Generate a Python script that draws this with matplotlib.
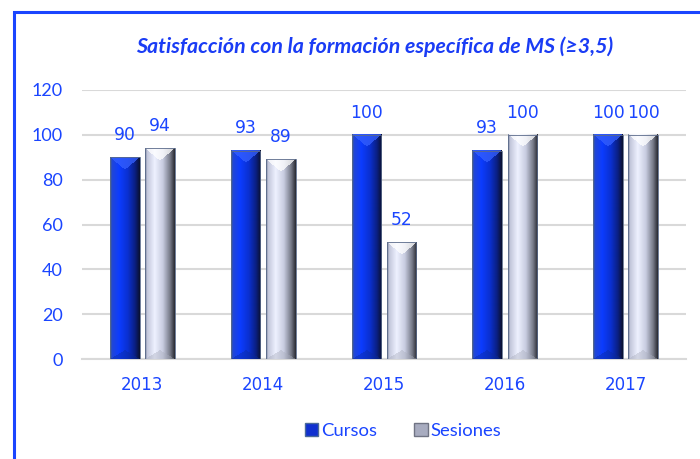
import numpy as np
import matplotlib
matplotlib.use("Agg")
import matplotlib.pyplot as plt
from matplotlib.patches import Rectangle, Patch
from matplotlib.colors import to_rgb

years = ["2013", "2014", "2015", "2016", "2017"]
cursos = [90, 93, 100, 93, 100]
sesiones = [94, 89, 52, 100, 100]
yticks = [0, 20, 40, 60, 80, 100, 120]
title = "Satisfacción con la formación específica de MS (≥3,5)"

BLUE = "#1a45ff"
W, H = 700, 459
fig = plt.figure(figsize=(W / 100, H / 100), dpi=100)
ax = fig.add_axes([82 / W, 1 - 359 / H, (686 - 82) / W, (359 - 90) / H])

# figure frame (blue border, left & top visible)
fig.patches.append(Rectangle((14.5 / W, -0.2), 1.2, 1.2 - 11.5 / H,
                             transform=fig.transFigure, fill=False,
                             edgecolor=BLUE, linewidth=2.2))

x = np.arange(len(years))
bw = 0.245
off = 0.145
b1 = ax.bar(x - off, cursos, bw, color="#1030e0", zorder=2)
b2 = ax.bar(x + off, sesiones, bw, color="#d8dcef", zorder=2)

ax.set_xlim(-0.5, len(years) - 0.5)
ax.set_ylim(0, 120)

def profile(stops, n):
    t = np.linspace(0, 1, n)
    pos = [s[0] for s in stops]
    cols = np.array([to_rgb(s[1]) for s in stops])
    return np.stack([np.interp(t, pos, cols[:, k]) for k in range(3)], axis=-1)

cur_side = [(0, "#3a5a9a"), (0.07, "#2046d8"), (0.3, "#0c3cff"), (0.6, "#0a30d0"),
            (0.85, "#0a1f80"), (1.0, "#0a1235")]
ses_side = [(0, "#8890a8"), (0.07, "#c4c8dc"), (0.32, "#eef1ff"), (0.6, "#c8cce0"),
            (0.85, "#767a88"), (1.0, "#2e3038")]
cur_top, cur_bot = to_rgb("#3560ff"), to_rgb("#0a2a9a")
ses_top, ses_bot = to_rgb("#ffffff"), to_rgb("#a8acbc")

def paint(bars, side, topc, botc):
    for b in bars:
        x0, y0 = b.get_x(), b.get_y()
        w, h = b.get_width(), b.get_height()
        p0 = ax.transData.transform((x0, y0))
        p1 = ax.transData.transform((x0 + w, y0 + h))
        nw = max(int(round(p1[0] - p0[0])), 2)
        nh = max(int(round(p1[1] - p0[1])), 2)
        base = profile(side, nw)
        img = np.repeat(base[None, :, :], nh, axis=0)
        u = np.arange(nw)[None, :] + 0.5
        v = np.arange(nh)[:, None] + 0.5
        dside = np.minimum(u, nw - u)
        top_mask = v < dside * 0.85
        bot_mask = (nh - v) < dside * 0.6
        img[top_mask] = img[top_mask] * 0.25 + np.array(topc) * 0.75
        img[bot_mask] = img[bot_mask] * 0.6 + np.array(botc) * 0.4
        ax.imshow(img, extent=[x0, x0 + w, y0, y0 + h], aspect="auto",
                  interpolation="bilinear", zorder=3, origin="upper")
        ax.add_patch(Rectangle((x0, y0), w, h, fill=False, edgecolor="#5a6a8a",
                               linewidth=0.6, zorder=4))

paint(b1, cur_side, cur_top, cur_bot)
paint(b2, ses_side, ses_top, ses_bot)
ax.set_xlim(-0.5, len(years) - 0.5)
ax.set_ylim(0, 120)

for bars, vals in ((b1, cursos), (b2, sesiones)):
    for b, v in zip(bars, vals):
        ax.annotate(str(v), (b.get_x() + b.get_width() / 2, v), xytext=(0, 9.5),
                    textcoords="offset points", ha="center", va="bottom",
                    color=BLUE, fontsize=12.3, family="DejaVu Sans", zorder=5)

ax.set_yticks(yticks)
ax.set_yticklabels([str(t) for t in yticks], family="Lato", fontsize=13, color=BLUE)
ax.set_xticks(x)
ax.set_xticklabels(years, family="DejaVu Sans", fontsize=12, color=BLUE)
ax.tick_params(axis="y", length=0, pad=14)
ax.tick_params(axis="x", length=0, pad=12)
ax.grid(axis="y", color="#d9d9d9", linewidth=1.5, zorder=0)
ax.set_axisbelow(True)
for s in ["top", "right", "left"]:
    ax.spines[s].set_visible(False)
ax.spines["bottom"].set_color("#d9d9d9")
ax.spines["bottom"].set_linewidth(1.5)

fig.text(375 / W, 1 - 47 / H, title, ha="center", va="center", color="#1a3cf5",
         fontsize=15.4, fontweight="bold", style="italic", family=["Lato", "DejaVu Sans"])

handles = [Patch(facecolor="#1030d0", edgecolor="#4a6a9a", label="Cursos"),
           Patch(facecolor="#a8acc0", edgecolor="#707484", label="Sesiones")]
leg = fig.legend(handles=handles, loc="center", bbox_to_anchor=(403 / W, 1 - 431 / H),
                 ncol=2, frameon=False, handlelength=0.75, handleheight=0.75,
                 handletextpad=0.15, columnspacing=2.0,
                 prop={"family": "Lato", "size": 13.3})
for t in leg.get_texts():
    t.set_color(BLUE)

fig.savefig("out.png", dpi=100)
